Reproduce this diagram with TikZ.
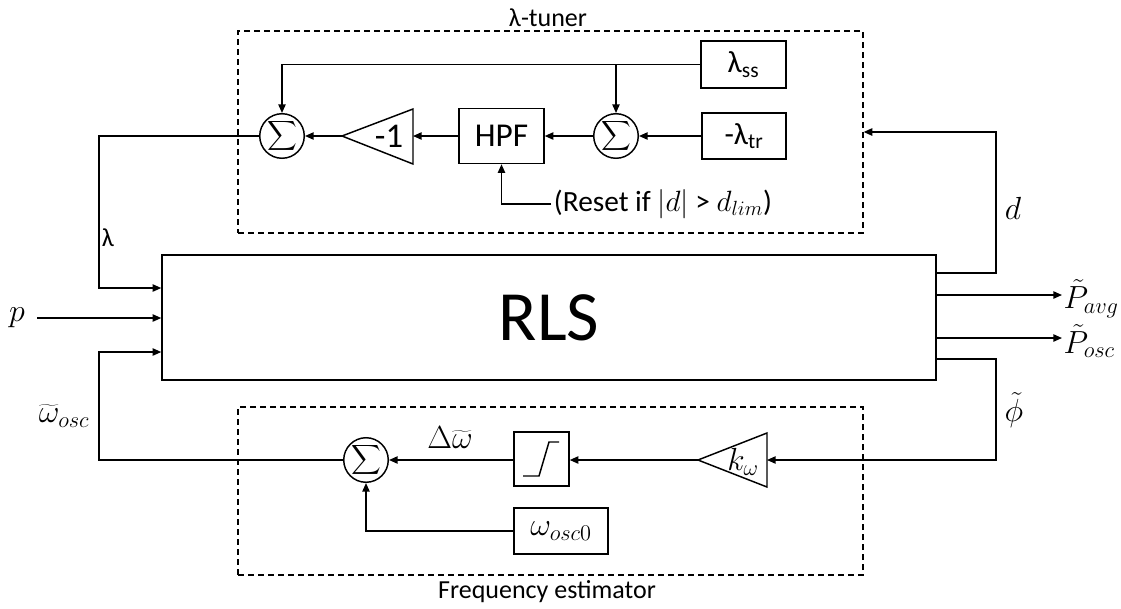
\RequirePackage{fix-cm}
\documentclass[tikz,border=0pt]{standalone}
\usepackage{graphicx}
\usepackage{fontspec}
\setmainfont{Carlito}
\usetikzlibrary{arrows.meta,calc}
\newcommand{\sumsym}{\scalebox{1.55}{$\displaystyle\sum$}}
\tikzset{
  line/.style={line width=1.1pt},
  arr/.style={line, -{Triangle[length=6.5pt,width=5.5pt]}},
  box/.style={draw, line width=1.1pt, rectangle, inner sep=0pt},
  sumnode/.style={draw, circle, line width=1.1pt, minimum size=31.5pt, inner sep=0pt},
  grp/.style={draw, line width=0.9pt, dash pattern=on 4.5pt off 3pt, inner sep=0pt},
  lbl/.style={font=\fontsize{19.5}{22}\selectfont, inner sep=1pt},
  mlbl/.style={font=\fontsize{24}{28}\selectfont, inner sep=1pt},
}
\begin{document}
\begin{tikzpicture}[x=0.75pt,y=-0.75pt]
\useasboundingbox (0,0) rectangle (1121,608);
% groups
\node[grp, minimum width=468.75pt, minimum height=151.5pt] (tuner) at (550.5,132) {};
\node[lbl] (tunerlbl) at (548,18) {λ-tuner};
\node[grp, minimum width=468.75pt, minimum height=126pt] (freq) at (550.5,491) {};
\node[lbl] (freqlbl) at (547,592) {Frequency estimator};
% RLS
\node[box, minimum width=580.5pt, minimum height=93.75pt, font=\fontsize{53}{60}\selectfont] (rls) at (549,317.5) {RLS};
% lambda tuner
\node[box, minimum width=63.75pt, minimum height=35.25pt, font=\fontsize{23}{24}\selectfont] (lss) at (743.5,64.5) {λ\textsubscript{ss}};
\node[box, minimum width=63pt, minimum height=34.5pt, font=\fontsize{23}{24}\selectfont] (ltr) at (744,136) {-λ\textsubscript{tr}};
\node[sumnode] (s2) at (616,136) {\sumsym};
\node[box, minimum width=63.75pt, minimum height=41.25pt, font=\fontsize{25}{28}\selectfont] (hpf) at (501.5,136) {HPF};
\coordinate (g1tip) at (342,136);
\coordinate (g1r) at (413,136);
\draw[line] (g1tip) -- (413,109) -- (413,164) -- cycle;
\node[font=\fontsize{26}{28}\selectfont] (g1lbl) at (389,136) {-1};
\node[sumnode] (s1) at (282,136) {\sumsym};
\node[font=\fontsize{22}{26}\selectfont, inner sep=2pt, anchor=west] (reset) at (551,204) {(Reset if $|d|$ > $d_{lim}$)};
\draw[arr] (ltr) -- (s2);
\draw[arr] (s2) -- (hpf);
\draw[arr] (hpf) -- (g1r);
\draw[arr] (g1tip) -- (s1);
\draw[arr] (lss.west) -| (s1.north);
\draw[arr] (s2.north |- lss.west) -- (s2.north);
\draw[arr] (reset.west) -| (hpf.south);
% lambda into RLS
\coordinate (lamc) at (99,288);
\draw[arr] (s1.west) -| (lamc) -- (rls.west |- lamc);
\node[lbl] (lamlbl) at (108,238) {λ};
% p
\node[mlbl] (p) at (17,318) {$p$};
\coordinate (pc) at (37,318);
\draw[arr] (pc) -- (rls.west |- pc);
% frequency estimator
\node[sumnode] (s3) at (366,460) {\sumsym};
\node[box, minimum width=41.25pt, minimum height=40.5pt] (sat) at (541.5,459) {};
\draw[line] (523,476) -- (539,476) -- (549,442) -- (559,442);
\coordinate (kwtip) at (698,460);
\coordinate (kwr) at (767,460);
\draw[line] (kwtip) -- (767,433) -- (767,487) -- cycle;
\node[mlbl] (kwlbl) at (743,462) {$k_\omega$};
\node[box, minimum width=70.5pt, minimum height=34.5pt, font=\fontsize{24}{28}\selectfont] (w0) at (561,531) {$\omega_{osc0}$};
\draw[arr] (kwtip) -- (sat.east |- kwtip);
\draw[arr] (sat.west |- s3) -- (s3);
\node[mlbl] (dwlbl) at (450,438) {$\Delta\widetilde{\omega}$};
\draw[arr] (w0.west) -| (s3.south);
\coordinate (wc) at (99,460);
\coordinate (wrls) at (162,352);
\draw[arr] (s3.west) -- (wc) |- (rls.west |- wrls);
\node[mlbl] (wlbl) at (64,416) {$\widetilde{\omega}_{osc}$};
% outputs
\coordinate (phc) at (996,359);
\draw[arr] (rls.east |- phc) -- (phc) |- (kwr);
\node[mlbl] (phlbl) at (1014,410) {$\tilde{\phi}$};
\coordinate (dc) at (996,132);
\coordinate (dout) at (936,273);
\draw[arr] (rls.east |- dout) -| (dc) -- (tuner.east |- dc);
\node[mlbl] (dlbl) at (1013,208) {$d$};
\node[mlbl, anchor=west] (pavg) at (1062,299) {$\tilde{P}_{avg}$};
\draw[arr] (rls.east |- 0,295) -- (pavg.west |- 0,295);
\node[mlbl, anchor=west] (posc) at (1062,341) {$\tilde{P}_{osc}$};
\draw[arr] (rls.east |- 0,338) -- (posc.west |- 0,338);
\end{tikzpicture}
\end{document}
